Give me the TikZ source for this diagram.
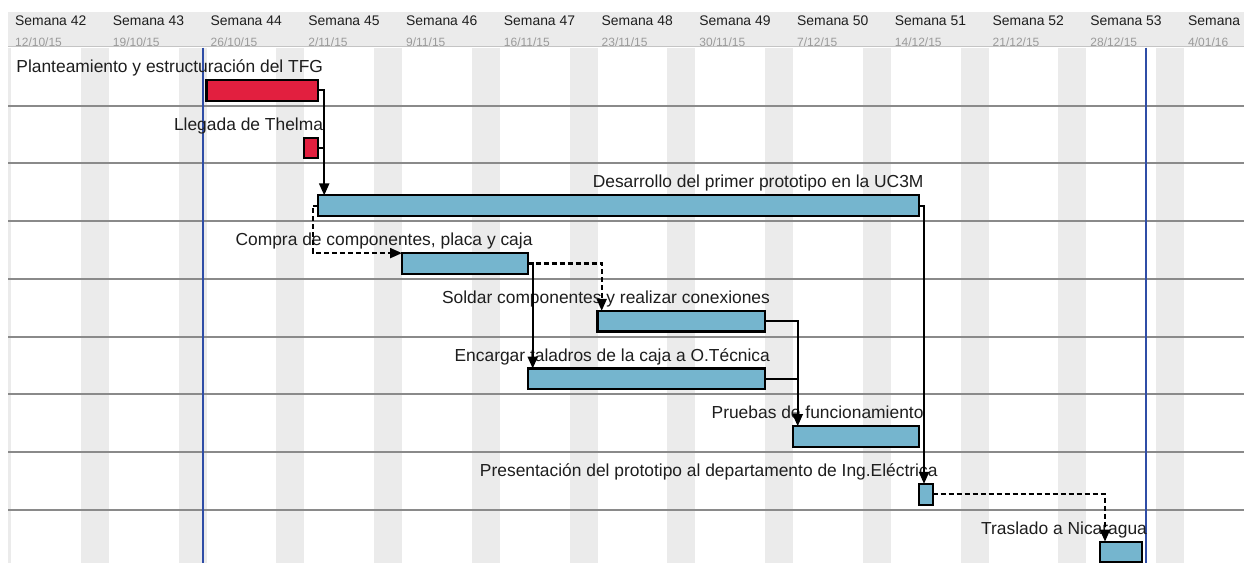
\documentclass[tikz,border=0pt]{standalone}
\usepackage{fontspec}
\setmainfont{Liberation Sans}
\usetikzlibrary{arrows.meta,calc}
\definecolor{barred}{HTML}{E21F3F}
\definecolor{barblue}{HTML}{75B5CE}
\definecolor{stripe}{HTML}{EBEBEB}
\definecolor{hdr}{HTML}{EBEBEB}
\definecolor{hdrline}{HTML}{C4C4C4}
\definecolor{rowline}{HTML}{8A8A8A}
\definecolor{todaycol}{HTML}{2F4DA6}
\definecolor{datecol}{HTML}{9A9A9A}
\definecolor{labelcol}{HTML}{1E1E1E}
\begin{document}
\begin{tikzpicture}[x=1pt,y=-1pt,
  bar/.style={draw=black, line width=2.1pt, inner sep=0pt, outer sep=0pt, anchor=north west, minimum height=20.7pt},
  redbar/.style={bar, fill=barred},
  bluebar/.style={bar, fill=barblue},
  lbl/.style={anchor=base east, inner sep=0pt, text=labelcol, font=\fontsize{17.4}{19}\selectfont},
  weektxt/.style={anchor=base west, inner sep=0pt, text=labelcol, font=\fontsize{13.9}{15}\selectfont},
  datetxt/.style={anchor=base west, inner sep=0pt, text=datecol, font=\fontsize{12}{14}\selectfont},
  link/.style={draw=black, line width=2.1pt, line join=miter},
  conn/.style={link, -{Triangle[length=12pt,width=10pt]}},
  dsh/.style={dash pattern=on 5pt off 3pt},
  rowsep/.style={draw=rowline, line width=2pt},
  todayline/.style={draw=todaycol, line width=2pt}
]
\useasboundingbox (0,0) rectangle (1244,563);
\begin{scope}
\clip (8,0) rectangle (1244,563);
% header
\fill[hdr] (8,12) rectangle (1244,47);
\node[weektxt] (s0) at (15,25.5) {Semana 42};
\node[weektxt] (s1) at (112.75,25.5) {Semana 43};
\node[weektxt] (s2) at (210.5,25.5) {Semana 44};
\node[weektxt] (s3) at (308.25,25.5) {Semana 45};
\node[weektxt] (s4) at (406,25.5) {Semana 46};
\node[weektxt] (s5) at (503.75,25.5) {Semana 47};
\node[weektxt] (s6) at (601.5,25.5) {Semana 48};
\node[weektxt] (s7) at (699.25,25.5) {Semana 49};
\node[weektxt] (s8) at (797,25.5) {Semana 50};
\node[weektxt] (s9) at (894.75,25.5) {Semana 51};
\node[weektxt] (s10) at (992.5,25.5) {Semana 52};
\node[weektxt] (s11) at (1090.25,25.5) {Semana 53};
\node[weektxt] (s12) at (1188,25.5) {Semana};
\node[datetxt] (t0) at (15,46.8) {12/10/15};
\node[datetxt] (t1) at (112.75,46.8) {19/10/15};
\node[datetxt] (t2) at (210.5,46.8) {26/10/15};
\node[datetxt] (t3) at (308.25,46.8) {2/11/15};
\node[datetxt] (t4) at (406,46.8) {9/11/15};
\node[datetxt] (t5) at (503.75,46.8) {16/11/15};
\node[datetxt] (t6) at (601.5,46.8) {23/11/15};
\node[datetxt] (t7) at (699.25,46.8) {30/11/15};
\node[datetxt] (t8) at (797,46.8) {7/12/15};
\node[datetxt] (t9) at (894.75,46.8) {14/12/15};
\node[datetxt] (t10) at (992.5,46.8) {21/12/15};
\node[datetxt] (t11) at (1090.25,46.8) {28/12/15};
\node[datetxt] (t12) at (1188,46.8) {4/01/16};
% body
\fill[white] (8,47.5) rectangle (1244,563);
\draw[draw=hdrline, line width=1.5pt] (8,46.5) -- (1244,46.5);
\foreach \k in {-1,...,11}
  \fill[stripe] ({11+97.75*\k+69.82},47.5) rectangle ({11+97.75*\k+97.75},563);
\foreach \r in {0,...,7}
  \draw[rowsep] (8,{105.7+57.7*\r}) -- (1244,{105.7+57.7*\r});
\draw[todayline] (202.7,47.5) -- (202.7,563);
\draw[todayline] (1145.6,47.5) -- (1145.6,563);
\end{scope}
% labels
\node[lbl] (l1) at (323.2,72.5) {Planteamiento y estructuración del TFG};
\node[lbl] (l2) at (323.2,130.2) {Llegada de Thelma};
\node[lbl] (l3) at (923.7,187.9) {Desarrollo del primer prototipo en la UC3M};
\node[lbl] (l4) at (532.7,245.6) {Compra de componentes, placa y caja};
\node[lbl] (l5) at (770.1,303.3) {Soldar componentes y realizar conexiones};
\node[lbl] (l6) at (770.1,361) {Encargar taladros de la caja a O.Técnica};
\node[lbl] (l7) at (923.7,418.7) {Pruebas de funcionamiento};
\node[lbl] (l8) at (937.7,476.4) {Presentación del prototipo al departamento de Ing.Eléctrica};
\node[lbl] (l9) at (1147.1,534.1) {Traslado a Nicaragua};
% bars
\node[redbar, minimum width=111.7pt] (b1) at (206.5,80) {};
\node[redbar, minimum width=13.96pt] (b2) at (304.25,137.7) {};
\node[bluebar, minimum width=600.5pt] (b3) at (318.2,195.4) {};
\node[bluebar, minimum width=125.7pt] (b4) at (402,253.1) {};
\node[bluebar, minimum width=167.6pt] (b5) at (597.5,310.8) {};
\node[bluebar, minimum width=237.4pt] (b6) at (527.7,368.5) {};
\node[bluebar, minimum width=125.7pt] (b7) at (793,426.2) {};
\node[bluebar, minimum width=13.96pt] (b8) at (918.7,483.9) {};
\node[bluebar, minimum width=41.9pt] (b9) at (1100.2,541.6) {};
% connectors
\coordinate (j1) at ([xshift=6pt]b3.north west);
\draw[conn] (b1.east) -| (j1);
\draw[link] (b2.east) -- (b2.east -| j1);
\draw[conn,dsh] (b3.west) -- ++(-5.5,0) |- (b4.north west);
\draw[conn,dsh] (b4.east) -| ([xshift=4.2pt]b5.north west);
\draw[conn] (b4.east) -| ([xshift=5pt]b6.north west);
\coordinate (j7) at ([xshift=4.7pt]b7.north west);
\draw[conn] (b5.east) -| (j7);
\draw[link] (b6.east) -- (b6.east -| j7);
\draw[conn] (b3.east) -| ([xshift=5.3pt]b8.north west);
\draw[conn,dsh] (b8.east) -| ([xshift=4.8pt]b9.north west);
\end{tikzpicture}
\end{document}
